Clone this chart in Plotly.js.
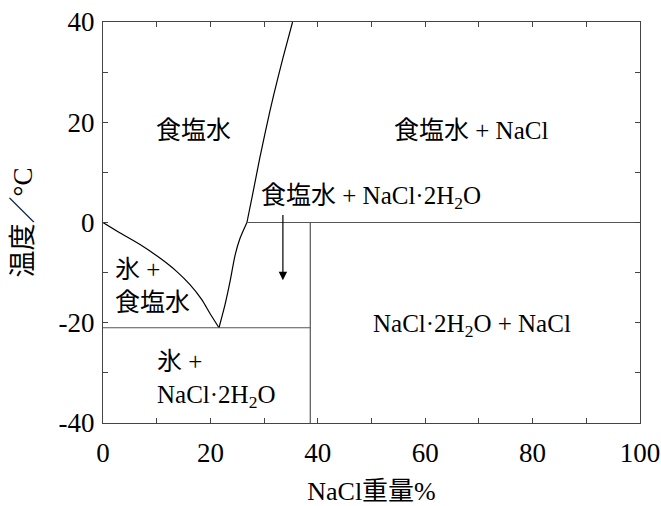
<!DOCTYPE html>
<html><head><meta charset="utf-8">
<script src="https://cdn.plot.ly/plotly-3.0.1.min.js"></script>
<style>html,body{margin:0;padding:0;background:#fff}#g{width:661px;height:506px}</style>
</head><body><div id="g"></div>
<script>
// Ice liquidus (ice + brine boundary)
const iceX = [0, 3.2, 6.9, 10.6, 13.7, 16.2, 18.4, 19.9, 21.6];
const iceY = [0, -2.1, -4.4, -7.1, -9.75, -12.4, -15.4, -18.1, -21];
// NaCl·2H2O solubility curve
const dihydX = [21.6, 22.7, 23.65, 24.6, 25.5, 26.8];
const dihydY = [-21, -16.5, -11.8, -6.5, -3.2, 0];
// NaCl solubility curve
const naclX = [26.8, 27.9, 29.2, 31.1, 31.8, 33.5, 35.3];
const naclY = [0, 5.8, 12.9, 22.3, 25.5, 32.8, 40];
// invariant lines
const peritecticX = [26.8, 100];
const peritecticY = [0, 0];
const eutecticX = [0, 38.6];
const eutecticY = [-21, -21];
const dihydrateX = [38.6, 38.6];
const dihydrateY = [0, -40];
// arrow (cooling path)
const arrowX = [33.5, 33.5];
const arrowY = [1.8, -11.5];
// region labels
const labelText = ["食塩水", "食塩水 + NaCl", "食塩水 + NaCl·2H<sub>2</sub>O", "氷 +<br>食塩水", "NaCl·2H<sub>2</sub>O + NaCl", "氷 +<br>NaCl·2H<sub>2</sub>O"];
const labelX = [16.8, 68.6, 49.9, 1.9, 68.7, 9.7];
const labelY = [18.4, 18.4, 5.0, -12.7, -20.5, -31.4];
const labelAlign = ["center", "center", "center", "left", "center", "left"];
const xTicks = [0, 20, 40, 60, 80, 100];
const yTicks = [-40, -20, 0, 20, 40];

const FONT = "Liberation Serif, Noto Sans CJK JP, serif";
const NUMFONT = "Liberation Serif";
const curve = {mode: 'lines', line: {color: '#000', width: 1.2, shape: 'spline', smoothing: 0.6}, hoverinfo: 'skip', showlegend: false};
const straight = {mode: 'lines', line: {color: '#555', width: 1.2}, hoverinfo: 'skip', showlegend: false};

const traces = [
  Object.assign({x: iceX, y: iceY}, curve),
  Object.assign({x: dihydX, y: dihydY}, curve),
  Object.assign({x: naclX, y: naclY}, curve),
  Object.assign({x: peritecticX, y: peritecticY}, straight),
  Object.assign({x: eutecticX, y: eutecticY}, straight),
  Object.assign({x: dihydrateX, y: dihydrateY}, straight)
];

const annotations = labelText.map((t, i) => ({
  x: labelX[i], y: labelY[i], text: t, showarrow: false,
  xanchor: labelAlign[i], yanchor: 'middle', align: labelAlign[i],
  font: {family: FONT, size: 25, color: '#000'}
}));
annotations.push({
  x: arrowX[1], y: arrowY[1], ax: arrowX[0], ay: arrowY[0],
  xref: 'x', yref: 'y', axref: 'x', ayref: 'y', text: '',
  showarrow: true, arrowhead: 2, arrowsize: 1.4, arrowwidth: 1.2, arrowcolor: '#000'
});

const axisCommon = {
  showline: true, linecolor: '#444', linewidth: 1.2, mirror: 'allticks',
  ticks: 'inside', ticklen: 5, tickwidth: 1, tickcolor: '#444',
  showgrid: false, zeroline: false,
  tickfont: {family: NUMFONT, size: 27, color: '#000'},
  minor: {ticks: 'inside', ticklen: 5, tickwidth: 1, tickcolor: '#444', dtick: 10, showgrid: false}
};

const layout = {
  width: 661, height: 506,
  margin: {l: 103, r: 21, t: 22, b: 83},
  paper_bgcolor: '#fff', plot_bgcolor: '#fff',
  showlegend: false,
  xaxis: Object.assign({}, axisCommon, {
    range: [0, 100], tickvals: xTicks, ticktext: xTicks.map(String), ticklabelstandoff: 5,
    title: {text: 'NaCl重量%', font: {family: FONT, size: 26, color: '#000'}, standoff: 16}
  }),
  yaxis: Object.assign({}, axisCommon, {
    range: [-40, 40], tickvals: yTicks, ticktext: yTicks.map(String), ticklabelstandoff: 2,
    title: {text: '温度／°C', font: {family: FONT, size: 27, color: '#000'}, standoff: 18}
  }),
  annotations: annotations
};

Plotly.newPlot('g', traces, layout, {displayModeBar: false, staticPlot: true});
</script>
</body></html>
